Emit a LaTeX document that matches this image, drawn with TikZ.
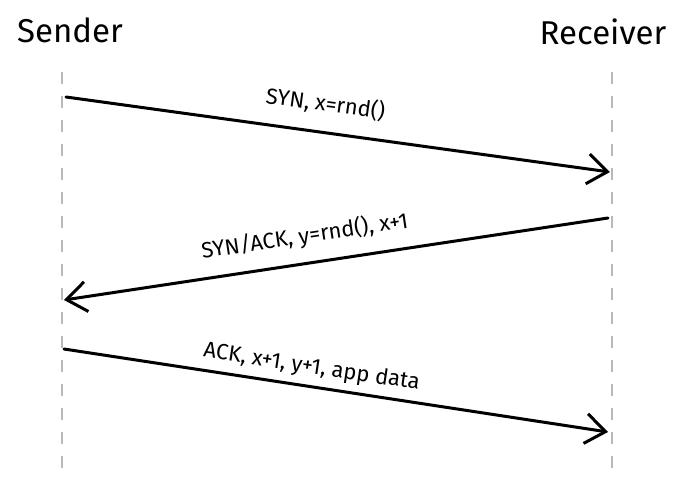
\documentclass[tikz,border=0pt]{standalone}
\usepackage{fontspec}
\setmainfont{Fira Sans}
\usetikzlibrary{arrows.meta,positioning}

\tikzset{
    lifeline/.style={draw=gray!55, line width=2pt, dash pattern=on 12pt off 12pt},
    message/.style={line width=3pt, line cap=round, -{Straight Barb[length=20pt, width=30pt, line width=3pt]}},
    msglabel/.style={sloped, above, inner sep=1pt, font=\fontsize{22}{24}\selectfont},
    actor/.style={font=\fontsize{33}{36}\selectfont}
}

\begin{document}
\begin{tikzpicture}[x=1pt, y=-1pt]
    \useasboundingbox (0,0) rectangle (689,491);

    % Participants
    \node[actor] (sender) at (70,30) {Sender};
    \node[actor] (receiver) at (603,32) {Receiver};

    % Lifelines
    \coordinate (sendtop) at (62,72);
    \coordinate (sendbot) at (62,470);
    \coordinate (recvtop) at (612,72);
    \coordinate (recvbot) at (612,475);
    \draw[lifeline] (sendtop) -- (sendbot);
    \draw[lifeline] (recvtop) -- (recvbot);

    % Message end points
    \coordinate (syn-a) at (66,97);
    \coordinate (syn-b) at (610,172);
    \coordinate (synack-a) at (608,218);
    \coordinate (synack-b) at (64,300);
    \coordinate (ack-a) at (64,349);
    \coordinate (ack-b) at (608,432);

    % Handshake messages
    \draw[message] (syn-a) -- node[msglabel, pos=0.47, yshift=15pt] (synlbl) {SYN, x=rnd()} (syn-b);
    \draw[message] (synack-a) -- node[msglabel, pos=0.55, yshift=13pt] (synacklbl) {SYN/ACK, y=rnd(), x+1} (synack-b);
    \draw[message] (ack-a) -- node[msglabel, pos=0.45, yshift=6pt] (acklbl) {ACK, x+1, y+1, app data} (ack-b);

\end{tikzpicture}
\end{document}
